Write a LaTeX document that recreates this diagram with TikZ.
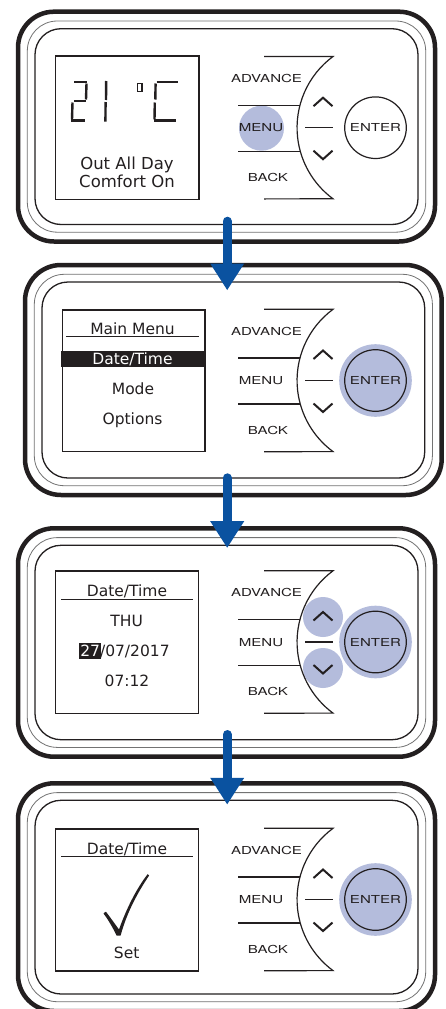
\documentclass[tikz,border=0pt]{standalone}
\usepackage{fontspec}
\usepackage{graphicx}
\setmainfont{DejaVu Sans}
\newfontfamily\labfont{TeX Gyre Heros}
\usetikzlibrary{arrows.meta}
\definecolor{ink}{RGB}{35,31,32}
\definecolor{hl}{RGB}{180,188,220}
\definecolor{flowblue}{RGB}{10,82,160}
\newcommand\wlab[1]{\scalebox{1.37}[1]{\labfont\fontsize{11}{11}\selectfont #1}}
\tikzset{
  outerframe/.style={draw=ink,line width=4.5pt,rounded corners=36pt},
  midframe/.style={draw=black!55,line width=0.8pt,rounded corners=30pt},
  innerframe/.style={draw=ink,line width=1.3pt,rounded corners=26pt},
  screenbox/.style={draw=ink,line width=1.3pt},
  btnline/.style={draw=ink,line width=1.2pt},
  chev/.style={draw=ink,line width=2pt},
  lbl/.style={inner sep=0pt,anchor=base,text=ink},
  scr/.style={inner sep=0pt,anchor=base,text=ink,font=\fontsize{15.5}{15.5}\selectfont},
  scrbig/.style={inner sep=0pt,anchor=base,text=ink,font=\fontsize{16.5}{16.5}\selectfont},
  hlfill/.style={fill=hl},
  seg/.style={draw=ink,line width=2.4pt},
  uline/.style={draw=ink,line width=1.4pt},
  flow/.style={draw=flowblue,line width=9pt,line cap=round,-{Triangle[width=34pt,length=26.5pt,line width=0pt]}},
}
\newcommand\devframe[4]{%
  \draw[outerframe] (#1,#2) rectangle (#3,#4);
  \draw[midframe] ({#1+9.3},{#2+9.3}) rectangle ({#3-9.3},{#4-9.3});
  \draw[innerframe] ({#1+17},{#2+17}) rectangle ({#3-17},{#4-17});
}
\newcommand\devbuttons[2]{%
  \draw[btnline] (264,{#1-71.2}) -- (333,{#1-71.2}) arc[start angle=126.4,end angle=233.6,radius=88.4pt] -- (264,{#1+71.2});
  \draw[btnline] (238,{#1-22.5}) -- (300,{#1-22.5});
  \draw[btnline] (238,{#1+23.5}) -- (300,{#1+23.5});
  \draw[btnline] (305,#1) -- (333,#1);
  \draw[chev] (313.5,{#1-21.5}) -- (323,{#1-30}) -- (332.5,{#1-21.5});
  \draw[chev] (313.5,{#1+23}) -- (323,{#1+31.5}) -- (332.5,{#1+23});
  \node[lbl] (adv#2) at (266.5,{#1-45.5}) {\wlab{ADVANCE}};
  \node[lbl] (menu#2) at (261,{#1+4.2}) {\wlab{MENU}};
  \node[lbl] (back#2) at (268,{#1+53.5}) {\wlab{BACK}};
  \node[lbl] (enter#2) at (375.5,{#1+4}) {\wlab{ENTER}};
  \draw[btnline] (375.5,#1) circle[radius=30.8pt];
}
\begin{document}
\begin{tikzpicture}[x=1pt,y=-1pt]
\useasboundingbox (0,0) rectangle (445,1009);
\fill[white] (0,0) rectangle (445,1009);

% ---------- Panel 1 ----------
\devframe{18}{11.7}{435}{241.5}
\draw[screenbox] (55.7,56) rectangle (199,199.3);
% LCD digits
\draw[seg] (74,82.2) -- (87.3,82.2);
\draw[seg] (86.5,83.5) -- (86,99.5);
\draw[seg] (74,101) -- (86,101);
\draw[seg] (72.5,102.5) -- (72,119.5);
\draw[seg] (71,120.5) -- (85,120.5);
\draw[seg] (106.2,81) -- (106,100);
\draw[seg] (105.6,102) -- (105.4,121.7);
\draw[line width=1.3pt,draw=ink] (137.3,83.8) rectangle (142,91.2);
\draw[seg] (156.7,82.2) -- (178.3,82.2);
\draw[seg] (155.6,83.5) -- (155.3,99.5);
\draw[seg] (154.8,102.5) -- (154.5,119.5);
\draw[seg] (154,120.5) -- (176,120.5);
\node[scrbig] (s1a) at (127,169.3) {Out All Day};
\node[scrbig] (s1b) at (127,187) {Comfort On};
\fill[hl] (261.5,128.2) circle[radius=22.5pt];
\devbuttons{127.7}{1}

% ---------- Panel 2 ----------
\devframe{25}{265}{441.7}{495}
\draw[screenbox] (62.7,310) rectangle (205,451.7);
\node[scr] (s2t) at (132.5,334) {Main Menu};
\draw[uline] (66,336.7) -- (199,336.7);
\fill[ink] (61,351) rectangle (204,366.7);
\node[scr,text=white] (s2a) at (132.5,364) {Date/Time};
\node[scr] (s2b) at (133,394) {Mode};
\node[scr] (s2c) at (132.5,424) {Options};
\fill[hl] (375.5,380.5) circle[radius=36.3pt];
\devbuttons{380.5}{2}

% ---------- Panel 3 ----------
\devframe{18}{528.3}{435}{756.7}
\draw[screenbox] (55.7,571) rectangle (198.3,713.3);
\node[scr] (s3t) at (127,596.7) {Date/Time};
\draw[uline] (61,599.3) -- (193.3,599.3);
\node[scr] (s3a) at (126.7,626) {THU};
\fill[ink] (79,643.3) rectangle (101,659.3);
\node[scr] (s3b) at (125,656) {\textcolor{white}{27}/07/2017};
\node[scr] (s3c) at (127,686) {07:12};
\fill[hl] (375.5,642) circle[radius=36.3pt];
\fill[hl] (323,617) circle[radius=20pt];
\fill[hl] (323,668) circle[radius=20pt];
\devbuttons{642}{3}

% ---------- Panel 4 ----------
\devframe{18}{783.3}{435}{1011}
\draw[screenbox] (55.7,829) rectangle (198.3,971);
\node[scr] (s4t) at (127,854) {Date/Time};
\draw[uline] (61,856.7) -- (193.3,856.7);
\fill[ink] (103.5,913.5) .. controls (104.5,912.3) and (105.3,911.8) .. (106,911.8)
  .. controls (110,917) and (115,924) .. (119,929.5)
  .. controls (127,907) and (137,888) .. (147.6,874.2)
  -- (149.2,875.4)
  .. controls (138,892) and (127,912) .. (120.6,935.5)
  -- (116.6,935.5)
  .. controls (112,926) and (107,918) .. cycle;
\node[scr] (s4a) at (126.7,958.3) {Set};
\fill[hl] (375.5,899.5) circle[radius=36.3pt];
\devbuttons{899.5}{4}

% ---------- Flow arrows ----------
\coordinate (a1s) at (227.2,221.2);
\coordinate (a1e) at (227.2,290);
\coordinate (a2s) at (227.2,477.8);
\coordinate (a2e) at (227.2,547.7);
\coordinate (a3s) at (227.2,734.5);
\coordinate (a3e) at (227.2,804.3);
\draw[flow] (a1s) -- (a1e);
\draw[flow] (a2s) -- (a2e);
\draw[flow] (a3s) -- (a3e);
\end{tikzpicture}
\end{document}
